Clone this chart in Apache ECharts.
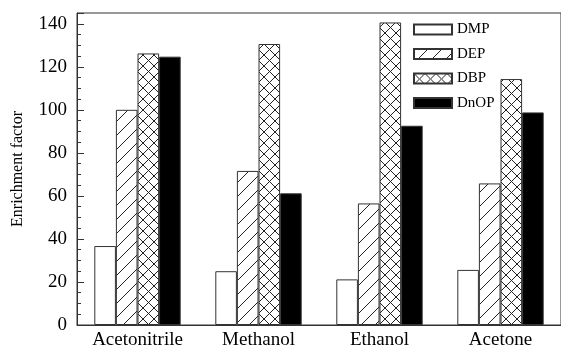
<!DOCTYPE html>
<html><head><meta charset="utf-8">
<script src="https://cdn.jsdelivr.net/npm/echarts@6/dist/echarts.min.js"></script>
<style>html,body{margin:0;padding:0;background:#fff}#c{width:561px;height:351px}</style>
</head><body><div id="c"></div>
<script>
const categories = ['Acetonitrile', 'Methanol', 'Ethanol', 'Acetone'];
const seriesNames = ['DMP', 'DEP', 'DBP', 'DnOP'];
const DMP = [36.7, 25, 21.2, 25.6];
const DEP = [100, 71.6, 56.5, 65.8];
const DBP = [126.2, 130.6, 140.6, 114.3];
const DnOP = [124.7, 61.2, 92.6, 98.8];
const yTicks = [0, 20, 40, 60, 80, 100, 120, 140];

function hatch(size, draw) {
  const c = document.createElement('canvas');
  c.width = size; c.height = size;
  const g = c.getContext('2d');
  g.fillStyle = '#fff'; g.fillRect(0, 0, size, size);
  g.strokeStyle = '#222'; g.lineWidth = 1;
  draw(g, size);
  return { image: c, repeat: 'repeat' };
}
const diag = hatch(14, (g, s) => {
  g.beginPath();
  g.moveTo(-1, s + 1); g.lineTo(s + 1, -1);
  g.moveTo(-1, 1); g.lineTo(1, -1);
  g.moveTo(s - 1, s + 1); g.lineTo(s + 1, s - 1);
  g.stroke();
});
const cross = hatch(11, (g, s) => {
  g.beginPath();
  g.moveTo(-1, s + 1); g.lineTo(s + 1, -1);
  g.moveTo(-1, -1); g.lineTo(s + 1, s + 1);
  g.stroke();
});

const fills = ['#ffffff', diag, cross, '#000000'];
const datas = [DMP, DEP, DBP, DnOP];
const font = '"Liberation Serif", "Times New Roman", Times, serif';

const chart = echarts.init(document.getElementById('c'));
chart.setOption({
  animation: false,
  textStyle: { fontFamily: font, color: '#000' },
  grid: { left: 77, right: -8, top: 13, bottom: 26, show: true, borderColor: '#333', borderWidth: 1, backgroundColor: 'transparent' },
  legend: {
    orient: 'vertical', left: 413, top: 22, icon: 'rect', padding: 0,
    itemWidth: 38, itemHeight: 10, itemGap: 9.5,
    textStyle: { fontFamily: font, fontSize: 15, color: '#000' },
    data: seriesNames
  },
  xAxis: {
    type: 'category', data: categories,
    axisLine: { lineStyle: { color: '#333', width: 1 } },
    axisTick: { show: false },
    axisLabel: { fontFamily: font, fontSize: 19, color: '#000', margin: 6 }
  },
  yAxis: {
    type: 'value', min: 0, max: 145, interval: 20,
    name: 'Enrichment factor', nameLocation: 'middle', nameGap: 51,
    nameTextStyle: { fontFamily: font, fontSize: 16, color: '#000' },
    axisLine: { show: true, lineStyle: { color: '#333', width: 1 } },
    axisTick: { show: true, inside: true, length: 7, lineStyle: { color: '#333' } },
    minorTick: { show: true, splitNumber: 4, length: 4, lineStyle: { color: '#333' } },
    splitLine: { show: false },
    axisLabel: { fontFamily: font, fontSize: 19, color: '#000', margin: 10, showMaxLabel: false,
      formatter: v => (yTicks.indexOf(v) >= 0 ? String(v) : '') }
  },
  series: seriesNames.map((n, i) => ({
    name: n, type: 'bar', data: datas[i],
    barWidth: 21.6, barGap: '0%',
    itemStyle: { color: fills[i], borderColor: '#333', borderWidth: 1 }
  }))
});
</script></body></html>
